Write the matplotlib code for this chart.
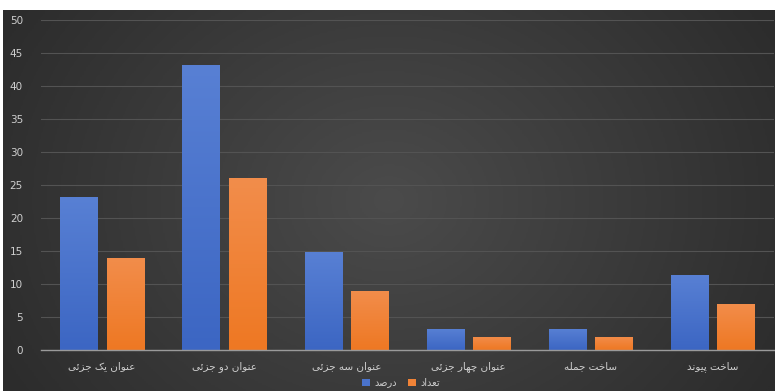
"""
Bar chart of Persian heading / sentence structure counts (dark theme)
"""

import matplotlib
matplotlib.use('Agg')
import matplotlib.pyplot as plt
from matplotlib.colors import LinearSegmentedColormap
import numpy as np


#---------------------------------------------------------------------------------------------------
# Data
#---------------------------------------------------------------------------------------------------

categories = ['عنوان یک جزئی', 'عنوان دو جزئی', 'عنوان سه جزئی',
              'عنوان چهار جزئی', 'ساخت جمله', 'ساخت پیوند']
percent = [23.2, 43.2, 14.9, 3.2, 3.2, 11.4]
count = [14, 26, 9, 2, 2, 7]
series_names = ['درصد', 'تعداد']
yticks = [0, 5, 10, 15, 20, 25, 30, 35, 40, 45, 50]


#---------------------------------------------------------------------------------------------------
# Minimal Arabic-script shaping (matplotlib draws glyphs left to right without joining)
#---------------------------------------------------------------------------------------------------

# letter: (isolated, final, initial, medial); None = letter does not join to the next one
forms = {'ا': (0xFE8D, 0xFE8E, None, None), 'ب': (0xFE8F, 0xFE90, 0xFE91, 0xFE92),
         'پ': (0xFB56, 0xFB57, 0xFB58, 0xFB59), 'ت': (0xFE95, 0xFE96, 0xFE97, 0xFE98),
         'ج': (0xFE9D, 0xFE9E, 0xFE9F, 0xFEA0), 'چ': (0xFB7A, 0xFB7B, 0xFB7C, 0xFB7D),
         'خ': (0xFEA5, 0xFEA6, 0xFEA7, 0xFEA8), 'د': (0xFEA9, 0xFEAA, None, None),
         'ر': (0xFEAD, 0xFEAE, None, None), 'ز': (0xFEAF, 0xFEB0, None, None),
         'س': (0xFEB1, 0xFEB2, 0xFEB3, 0xFEB4), 'ص': (0xFEB9, 0xFEBA, 0xFEBB, 0xFEBC),
         'ع': (0xFEC9, 0xFECA, 0xFECB, 0xFECC), 'ک': (0xFB8E, 0xFB8F, 0xFB90, 0xFB91),
         'ل': (0xFEDD, 0xFEDE, 0xFEDF, 0xFEE0), 'م': (0xFEE1, 0xFEE2, 0xFEE3, 0xFEE4),
         'ن': (0xFEE5, 0xFEE6, 0xFEE7, 0xFEE8), 'ه': (0xFEE9, 0xFEEA, 0xFEEB, 0xFEEC),
         'و': (0xFEED, 0xFEEE, None, None), 'ی': (0xFBFC, 0xFBFD, 0xFBFE, 0xFBFF),
         'ئ': (0xFE89, 0xFE8A, 0xFE8B, 0xFE8C)}


def shape(s):
    out = []
    for i, c in enumerate(s):
        if c not in forms:
            out.append(c)
            continue
        prev = s[i-1] if i > 0 else ''
        nxt = s[i+1] if i < len(s) - 1 else ''
        join_prev = prev in forms and forms[prev][2] is not None
        join_next = forms[c][2] is not None and nxt in forms
        if join_prev and join_next:
            k = 3
        elif join_prev:
            k = 1
        elif join_next:
            k = 2
        else:
            k = 0
        out.append(chr(forms[c][k]))
    return ''.join(out[::-1])


#---------------------------------------------------------------------------------------------------
# Make plot
#---------------------------------------------------------------------------------------------------

plt.rcParams['font.family'] = ['DejaVu Sans']
txt_col = '#cfcfcf'

fig = plt.figure(figsize=(7.75, 3.91), dpi=100, facecolor='white')

# dark radial-ish background panel
bg = fig.add_axes([3/775, 0, 1 - 3/775, 381/391])
yy, xx = np.mgrid[-1:1:200j, -1:1:400j]
rr = np.sqrt(xx**2 + (0.6*yy)**2)
bg.imshow(rr, cmap=LinearSegmentedColormap.from_list('bg', ['#4b4b4b', '#2c2c2c']),
          aspect='auto', extent=[0, 1, 0, 1], vmin=0, vmax=1.15)
bg.set_axis_off()

ax = fig.add_axes([41/775, 41/391, 733/775, 330/391])
ax.set_facecolor('none')

x = np.arange(len(categories))
w = 0.305
off = 0.19
blue_cmap = LinearSegmentedColormap.from_list('b', ['#3c66c3', '#5880d4'])
orange_cmap = LinearSegmentedColormap.from_list('o', ['#ee7823', '#f28d4b'])

grad = np.linspace(0, 1, 100).reshape(-1, 1)
for vals, dx, cm, lab in [(percent, -off, blue_cmap, series_names[0]),
                          (count, off, orange_cmap, series_names[1])]:
    bars = ax.bar(x + dx, vals, width=w, color=cm(0.5), label=shape(lab), zorder=2)
    for b in bars:
        x0, y0 = b.get_x(), b.get_y()
        im = ax.imshow(grad, cmap=cm, origin='lower', aspect='auto', zorder=3,
                       extent=[x0, x0 + b.get_width(), y0, y0 + b.get_height()])
        im.set_clip_path(b)

ax.set_xlim(-0.5, len(categories) - 0.5)
ax.set_ylim(0, 50)
ax.set_yticks(yticks)
ax.set_xticks(x)
ax.set_xticklabels([shape(c) for c in categories])
ax.tick_params(axis='both', length=0, colors=txt_col, labelsize=7.5)
ax.tick_params(axis='y', pad=13)
ax.tick_params(axis='x', pad=8)
ax.grid(axis='y', color='#535353', linewidth=0.8, zorder=0)
for s in ['top', 'right', 'left']:
    ax.spines[s].set_visible(False)
ax.spines['bottom'].set_color('#9a9a9a')
ax.spines['bottom'].set_linewidth(1.0)
ax.spines['bottom'].set_zorder(4)

leg = ax.legend(loc='center', bbox_to_anchor=(360/733, -0.1), ncol=2, frameon=False,
                fontsize=7, handlelength=0.8, handleheight=0.8, handletextpad=0.4,
                columnspacing=1.2, labelcolor=txt_col)

plt.savefig('out.png', dpi=100)
